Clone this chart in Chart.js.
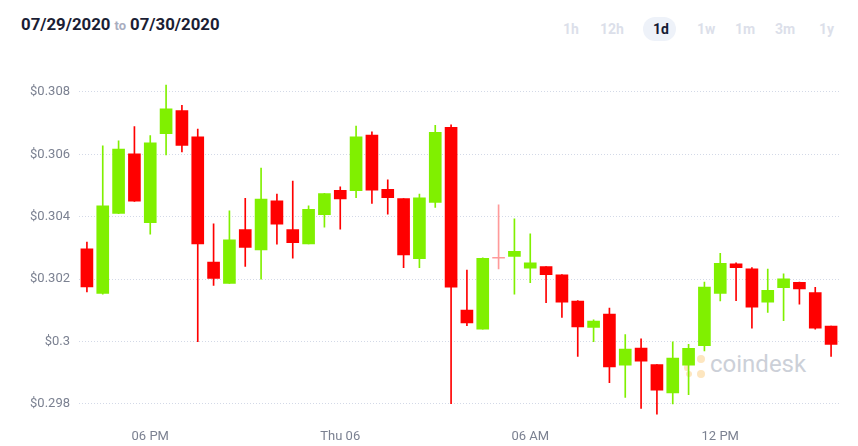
<!DOCTYPE html>
<html>
<head>
<meta charset="utf-8">
<script src="https://cdn.jsdelivr.net/npm/chart.js@4.4.1/dist/chart.umd.min.js"></script>
<style>
  body { margin: 0; background: #fff; font-family: Roboto, "Noto Sans", sans-serif; }
  #cadre { position: relative; width: 858px; height: 446px; overflow: hidden; }
  #titre { position: absolute; left: 21px; top: 14px; font-size: 16.8px; font-weight: 700; color: #1b1e34; }
  #titre span { font-size: 13px; font-weight: 700; color: #a9adbf; margin: 0 4px; }
  .periode { position: absolute; top: 19px; font-size: 14px; font-weight: 700; color: #dcdfea; line-height: 20px; }
  .actif { color: #141a35; }
  #pastille { position: absolute; left: 643px; top: 17px; width: 33px; height: 24px; border-radius: 12px; background: #eef2f9; }
  #filigrane { position: absolute; left: 710px; top: 350px; font-size: 24px; color: #ccd0d8; }
  .point { position: absolute; border-radius: 50%; background: #fde6bf; }
  #zone { position: absolute; left: 0; top: 0; width: 858px; height: 446px; }
</style>
</head>
<body>
<div id="cadre">
  <div id="titre">07/29/2020<span>to</span>07/30/2020</div>
  <div id="pastille"></div>
  <div class="periode" style="left:563px">1h</div>
  <div class="periode" style="left:600px">12h</div>
  <div class="periode actif" style="left:653px">1d</div>
  <div class="periode" style="left:697px">1w</div>
  <div class="periode" style="left:735px">1m</div>
  <div class="periode" style="left:775px">3m</div>
  <div class="periode" style="left:819px">1y</div>

  <!-- logo coindesk en fond -->
  <div class="point" style="left:686px;top:357px;width:6px;height:6px"></div>
  <div class="point" style="left:697px;top:355px;width:8px;height:8px"></div>
  <div class="point" style="left:684px;top:364px;width:5px;height:7px"></div>
  <div class="point" style="left:686px;top:371px;width:6px;height:6px"></div>
  <div class="point" style="left:697px;top:370px;width:8px;height:8px"></div>
  <div id="filigrane">coindesk</div>

  <div id="zone"><canvas id="graphe"></canvas></div>
</div>

<script>
// bougies de 30 minutes, du 29/07 16:00 au 30/07 15:30
const heures = [
  '16:00','16:30','17:00','17:30','18:00','18:30','19:00','19:30','20:00','20:30','21:00','21:30',
  '22:00','22:30','23:00','23:30','00:00','00:30','01:00','01:30','02:00','02:30','03:00','03:30',
  '04:00','04:30','05:00','05:30','06:00','06:30','07:00','07:30','08:00','08:30','09:00','09:30',
  '10:00','10:30','11:00','11:30','12:00','12:30','13:00','13:30','14:00','14:30','15:00','15:30'
];

const ouvertures = [
  0.30297, 0.30154, 0.30411, 0.30602, 0.30381, 0.30666, 0.30740, 0.30656, 0.30255, 0.30186, 0.30359, 0.30294,
  0.30451, 0.30359, 0.30313, 0.30407, 0.30485, 0.30484, 0.30662, 0.30488, 0.30458, 0.30266, 0.30446, 0.30687,
  0.30101, 0.30040, 0.30267, 0.30273, 0.30235, 0.30240, 0.30214, 0.30130, 0.30045, 0.30088, 0.29924, 0.29979,
  0.29926, 0.29835, 0.29924, 0.29987, 0.30154, 0.30249, 0.30233, 0.30126, 0.30173, 0.30190, 0.30157, 0.30050
];
const hauts = [
  0.30319, 0.30627, 0.30643, 0.30689, 0.30660, 0.30822, 0.30757, 0.30681, 0.30377, 0.30419, 0.30459, 0.30556,
  0.30473, 0.30514, 0.30435, 0.30475, 0.30496, 0.30691, 0.30672, 0.30518, 0.30458, 0.30473, 0.30693, 0.30695,
  0.30229, 0.30268, 0.30438, 0.30393, 0.30345, 0.30240, 0.30215, 0.30131, 0.30070, 0.30107, 0.30022, 0.30009,
  0.29926, 0.29999, 0.29991, 0.30191, 0.30283, 0.30252, 0.30237, 0.30232, 0.30217, 0.30191, 0.30174, 0.30050
];
const bas = [
  0.30159, 0.30152, 0.30410, 0.30449, 0.30344, 0.30598, 0.30608, 0.30000, 0.30180, 0.30186, 0.30241, 0.30200,
  0.30312, 0.30267, 0.30313, 0.30367, 0.30360, 0.30461, 0.30443, 0.30408, 0.30237, 0.30237, 0.30430, 0.29801,
  0.30051, 0.30040, 0.30233, 0.30152, 0.30189, 0.30125, 0.30077, 0.29952, 0.30000, 0.29868, 0.29821, 0.29786,
  0.29767, 0.29800, 0.29830, 0.29970, 0.30130, 0.30131, 0.30043, 0.30093, 0.30067, 0.30120, 0.30040, 0.29952
];
const fermetures = [
  0.30175, 0.30435, 0.30617, 0.30450, 0.30637, 0.30746, 0.30629, 0.30313, 0.30202, 0.30326, 0.30302, 0.30457,
  0.30376, 0.30317, 0.30424, 0.30474, 0.30457, 0.30656, 0.30485, 0.30461, 0.30278, 0.30461, 0.30671, 0.30174,
  0.30060, 0.30267, 0.30267, 0.30289, 0.30252, 0.30214, 0.30126, 0.30047, 0.30066, 0.29919, 0.29976, 0.29937,
  0.29844, 0.29947, 0.29978, 0.30175, 0.30251, 0.30237, 0.30110, 0.30164, 0.30201, 0.30169, 0.30043, 0.29991
];

// graduations
const etiquettesX = { '18:00': '06 PM', '00:00': 'Thu 06', '06:00': '06 AM', '12:00': '12 PM' };
const ticksY = [0.298, 0.300, 0.302, 0.304, 0.306, 0.308];

const VERT = '#80f000';
const ROUGE = '#ff0000';
const DOJI = '#ff9a9a';

const couleurs = ouvertures.map((o, i) => {
  if (fermetures[i] > o) return VERT;
  if (fermetures[i] < o) return ROUGE;
  return DOJI;
});
const corps = ouvertures.map((o, i) => [Math.min(o, fermetures[i]), Math.max(o, fermetures[i])]);
const meches = bas.map((b, i) => [b, hauts[i]]);

new Chart(document.getElementById('graphe'), {
  type: 'bar',
  data: {
    labels: heures,
    datasets: [
      {
        data: corps,
        backgroundColor: couleurs,
        barThickness: 12,
        minBarLength: 1,
        grouped: false,
        order: 0
      },
      {
        data: meches,
        backgroundColor: couleurs,
        barThickness: 1,
        grouped: false,
        order: 1
      }
    ]
  },
  options: {
    responsive: true,
    maintainAspectRatio: false,
    animation: false,
    layout: { padding: { top: 67, right: 19, left: 0, bottom: 0 } },
    plugins: { legend: { display: false }, tooltip: { enabled: false } },
    scales: {
      x: {
        offset: true,
        grid: { display: false },
        border: { display: false },
        afterFit: s => { s.height = 446 - 67 - (0.3088 - 0.2976) * 31200; },
        ticks: {
          autoSkip: false,
          maxRotation: 0,
          padding: 5,
          color: '#7b8191',
          font: { family: 'Roboto', size: 13 },
          callback: function (v, i) { return etiquettesX[heures[i]] || ''; }
        }
      },
      y: {
        min: 0.2976,
        max: 0.3088,
        afterFit: s => { s.width = 79; },
        afterBuildTicks: s => { s.ticks = ticksY.map(v => ({ value: v })); },
        grid: { color: '#d3d9e7', drawTicks: false, tickLength: 0 },
        border: { display: false, dash: [1, 2] },
        ticks: {
          padding: 9,
          color: '#7b8191',
          font: { family: 'Roboto', size: 13 },
          callback: v => '$' + Number(v.toFixed(3))
        }
      }
    }
  }
});
</script>
</body>
</html>
